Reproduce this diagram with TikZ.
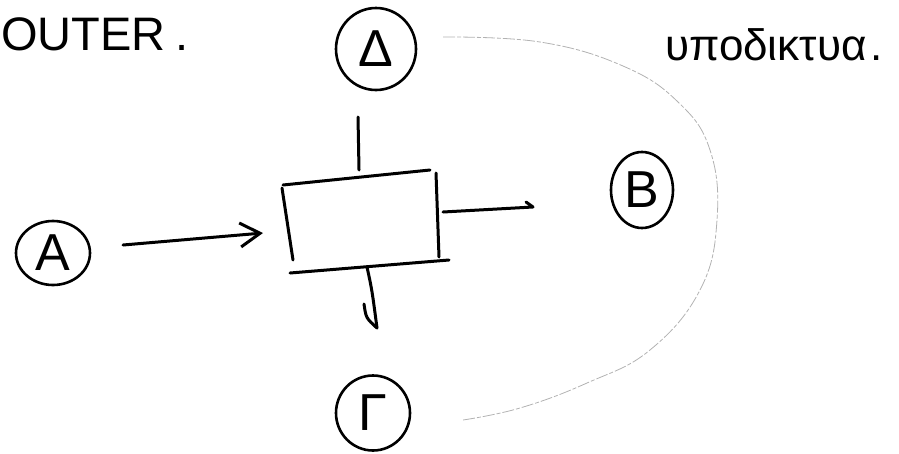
\documentclass[tikz,border=0pt]{standalone}
\usepackage{fontspec}
\setmainfont{Liberation Sans}
\usetikzlibrary{shapes.geometric,arrows.meta}
\begin{document}
\begin{tikzpicture}[x=1pt,y=-1pt,
  ink/.style={line width=3pt,line cap=round,line join=round},
  bubble/.style={ellipse,draw,line width=2.6pt,inner sep=0pt,font=\fontsize{52}{52}\selectfont},
  faint/.style={draw=gray!60,line width=0.8pt,dash pattern=on 12pt off 2pt on 4pt off 2pt},
  words/.style={anchor=base west,inner sep=0pt},
]
\useasboundingbox (0,0) rectangle (899,453);

% text
\node[words,font=\fontsize{47}{47}\selectfont] (title) at (1,50) {OUTER\kern10pt.};
\node[words,font=\fontsize{44}{44}\selectfont] (sub) at (665,60) {υποδικτυα\kern4pt.};

% bubbles
\node[bubble,minimum width=80pt,minimum height=82pt] (D) at (376,49) {Δ};
\node[bubble,minimum width=74pt,minimum height=64pt] (A) at (53,253) {A};
\node[bubble,minimum width=62pt,minimum height=76pt] (B) at (642,190) {B};
\node[bubble,minimum width=74pt,minimum height=75pt] (G) at (373,413) {Γ};

% box
\coordinate (tl) at (283,185); \coordinate (tr) at (430,170);
\coordinate (lt) at (282,188); \coordinate (lb) at (293,260);
\coordinate (rt) at (436,173); \coordinate (rb) at (439,257);
\coordinate (bl) at (290,273); \coordinate (br) at (449,260);
\draw[ink] (tl) -- (tr);
\draw[ink] (lt) -- (lb);
\draw[ink] (rt) -- (rb);
\draw[ink] (bl) -- (br);

% connectors
\coordinate (a1) at (123,245); \coordinate (a2) at (263,233);
\draw[ink,-{Straight Barb[length=20pt,width=24pt]}] (a1) -- (a2);

\coordinate (r1) at (443,212); \coordinate (r2) at (533,207); \coordinate (r3) at (526,202);
\draw[ink] (r1) -- (r2) -- (r3);

\coordinate (d1) at (367,267); \coordinate (d2) at (377,328); \coordinate (d3) at (364,304);
\draw[ink] (d1) .. controls (372,290) .. (d2);
\draw[ink] (d3) .. controls (366,318) .. (d2);

\coordinate (t1) at (358,117); \coordinate (t2) at (359,170);
\draw[ink] (t1) -- (t2);

% faint arc
\draw[faint] plot[smooth,tension=0.7] coordinates {(443,37) (540,42) (623,66) (678,102) (710,150) (717,220) (700,290) (650,350) (587,383) (520,408) (463,420)};
\end{tikzpicture}
\end{document}
